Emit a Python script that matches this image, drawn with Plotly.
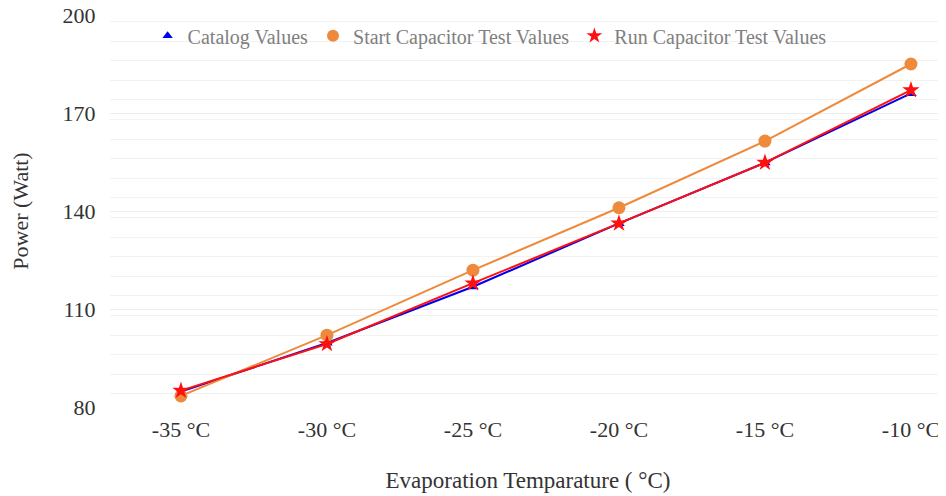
import plotly.graph_objects as go

temps = [-35, -30, -25, -20, -15, -10]
tick_labels = ["-35 °C", "-30 °C", "-25 °C", "-20 °C", "-15 °C", "-10 °C"]
catalog = [84.7, 99.6, 116.8, 136.2, 154.8, 176.0]
start_cap = [83.4, 102.0, 121.9, 141.0, 161.4, 185.0]
run_cap = [85.0, 99.3, 117.9, 136.2, 154.8, 177.0]

series = [
    ("Catalog Values", catalog, "#0000ee", "triangle-up", 10),
    ("Start Capacitor Test Values", start_cap, "#ee8a3c", "circle", 13),
    ("Run Capacitor Test Values", run_cap, "#ff1010", "star", 13),
]

FONT = "Liberation Serif, Times New Roman, serif"

fig = go.Figure()
for name, vals, color, sym, size in series:
    fig.add_trace(go.Scatter(
        x=temps, y=vals, name=name, mode="lines+markers", showlegend=False,
        line=dict(color=color, width=2),
        marker=dict(symbol=sym, size=size, color=color)))
# legend entries: symbol only (no line), as in the reference
for name, vals, color, sym, size in series:
    fig.add_trace(go.Scatter(
        x=[None], y=[None], name=name, mode="markers", showlegend=True,
        marker=dict(symbol=sym, size=size - 1, color=color)))

fig.update_layout(
    width=946, height=496,
    margin=dict(l=102, r=8, t=7, b=97),
    paper_bgcolor="white", plot_bgcolor="white",
    font=dict(family=FONT, size=20, color="#333333"),
    showlegend=True,
    legend=dict(orientation="h", x=0.045, y=0.947, xanchor="left", yanchor="middle",
                font=dict(family=FONT, size=20, color="#808080"),
                bgcolor="rgba(0,0,0,0)", itemwidth=30),
    xaxis=dict(range=[-37.43, -8.8], tickmode="array", tickvals=temps, ticktext=tick_labels,
               showgrid=False, zeroline=False, showline=False, automargin=False,
               ticks="outside", ticklen=3, tickcolor="rgba(0,0,0,0)",
               ticklabeloverflow="allow",
               tickfont=dict(family=FONT, size=22, color="#333333"),
               title=dict(text="Evaporation Temparature ( °C)", standoff=30,
                          font=dict(family=FONT, size=23, color="#333333"))),
    yaxis=dict(range=[80, 200], tickmode="linear", tick0=80, dtick=30,
               showgrid=True, gridcolor="#eeeeee", gridwidth=1,
               zeroline=False, showline=False, automargin=False,
               ticks="outside", ticklen=9, tickcolor="rgba(0,0,0,0)",
               ticklabeloverflow="allow",
               minor=dict(dtick=6, showgrid=True, gridcolor="#f2f2f2", gridwidth=1),
               tickfont=dict(family=FONT, size=22, color="#333333"),
               title=dict(text="Power (Watt)", standoff=32,
                          font=dict(family=FONT, size=22, color="#333333"))),
)

fig.write_html("out.html")
